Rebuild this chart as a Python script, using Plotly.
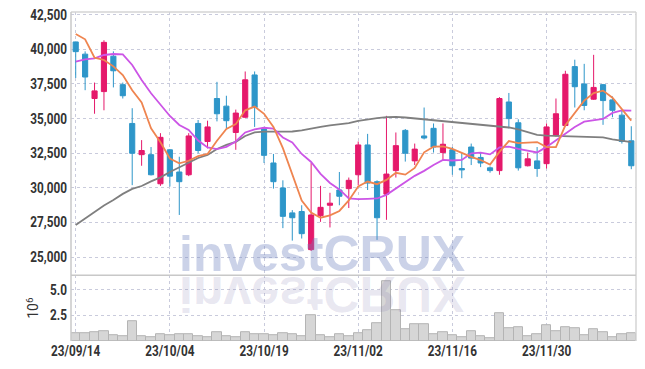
import plotly.graph_objects as go

# ---------------- data ----------------
dates = ["23/09/14", "23/09/15", "23/09/18", "23/09/19", "23/09/20", "23/09/21", "23/09/22",
         "23/09/25", "23/09/26", "23/09/27", "23/10/04", "23/10/05", "23/10/06", "23/10/10",
         "23/10/11", "23/10/12", "23/10/13", "23/10/16", "23/10/17", "23/10/18", "23/10/19",
         "23/10/20", "23/10/23", "23/10/24", "23/10/25", "23/10/26", "23/10/27", "23/10/30",
         "23/10/31", "23/11/01", "23/11/02", "23/11/03", "23/11/06", "23/11/07", "23/11/08",
         "23/11/09", "23/11/10", "23/11/13", "23/11/14", "23/11/15", "23/11/16", "23/11/17",
         "23/11/20", "23/11/21", "23/11/22", "23/11/23", "23/11/24", "23/11/27", "23/11/28",
         "23/11/29", "23/11/30", "23/12/01", "23/12/04", "23/12/05", "23/12/06", "23/12/07",
         "23/12/08", "23/12/11", "23/12/12", "23/12/13"]

open_ = [40530, 39650, 36450, 36950, 39500, 37450, 34650, 32400, 32400, 30300,
         32750, 31150, 30950, 34650, 33350, 36450, 35900, 34000, 35100, 38150,
         34300, 31800, 30000, 28200, 28300, 25550, 28000, 28750, 29850, 29950,
         30950, 33100, 30450, 29550, 31250, 34150, 31950, 33750, 34300, 32550,
         32750, 31400, 32950, 32200, 31450, 31250, 36200, 34700, 31600, 31950,
         31750, 33800, 34500, 38750, 37500, 36400, 37450, 36350, 35250, 33400]
high = [40550, 39850, 37600, 40650, 39850, 37600, 35750, 33450, 32950, 33950,
        32800, 32250, 33950, 34900, 34850, 37650, 36650, 35650, 38400, 38400,
        34400, 32450, 30550, 28400, 28750, 31800, 30150, 29650, 31150, 30750,
        33350, 33900, 30550, 35200, 34000, 34250, 33200, 35800, 34650, 34650,
        32950, 32500, 33200, 32550, 31550, 36550, 36850, 34950, 32550, 32950,
        34650, 36450, 38450, 39250, 38950, 39600, 37500, 36600, 35600, 34450]
low = [37930, 37050, 35350, 35600, 37250, 36450, 30200, 31600, 30900, 30150,
       30100, 28050, 30850, 32500, 32850, 34800, 34300, 32750, 35050, 34400,
       31800, 29950, 27100, 26200, 26350, 25450, 27550, 27150, 28750, 28550,
       30200, 29850, 26250, 27700, 30750, 31900, 31650, 33500, 32550, 32000,
       30950, 30700, 31650, 31500, 31100, 30950, 34300, 31250, 31550, 30800,
       31400, 33700, 34450, 35800, 35600, 36350, 34550, 35100, 33200, 31350]
close = [39830, 38000, 37000, 40500, 38450, 36650, 32500, 32700, 30950, 33650,
         30850, 30450, 33750, 32700, 34400, 35350, 34850, 35400, 37800, 35800,
         32350, 30450, 27950, 27850, 26700, 28050, 28600, 28900, 29400, 30550,
         33100, 30350, 27850, 31000, 33050, 32500, 32800, 33600, 32950, 33150,
         31600, 31300, 32150, 31800, 31250, 36450, 35000, 31450, 32100, 31400,
         34400, 35350, 38200, 37300, 35950, 37250, 36300, 35600, 33350, 31600]

ma5 = [41100, 40720, 39400, 39230, 38770, 38140, 37050, 36170, 34300, 33300,
       32120, 31780, 31960, 32290, 32450, 33400, 34250, 34600, 35600, 35870,
       35350, 34400, 32870, 30930, 29090, 28230, 27850, 28020, 28340, 29100,
       30110, 30460, 30270, 30580, 31090, 30960, 31440, 32570, 32980, 33000,
       32810, 32530, 32240, 32010, 31680, 32600, 33380, 33230, 33280, 33310,
       32950, 32950, 34520, 35400, 36300, 36840, 37020, 36510, 35710, 34850]
ma10 = [39110, 39280, 39350, 39590, 39660, 39640, 38870, 37790, 36830, 35980,
        35190, 34540, 34180, 33420, 32920, 32800, 32960, 33350, 34000, 34230,
        34340, 34280, 33640, 33280, 32450, 31870, 31010, 30360, 29890, 29240,
        29190, 29210, 29240, 29500, 29960, 30430, 30870, 31230, 31660, 32020,
        31980, 32020, 32500, 32540, 32420, 32920, 32980, 32810, 32670, 32560,
        32960, 33420, 33890, 34400, 34780, 34870, 34980, 35410, 35590, 35570]
ma60 = [27330, 27800, 28230, 28740, 29130, 29570, 29930, 30140, 30470, 30760,
        31150, 31480, 31840, 32160, 32380, 32810, 33100, 33320, 33750, 34000,
        34060, 34060, 34060, 34070, 34150, 34290, 34400, 34510, 34580, 34670,
        34830, 34940, 35030, 35100, 35120, 35080, 35010, 34960, 34890, 34840,
        34770, 34700, 34610, 34540, 34450, 34400, 34360, 34220, 34040, 33820,
        33770, 33750, 33750, 33750, 33730, 33710, 33640, 33510, 33390, 33300]

volume_millions = [0.75, 0.75, 0.85, 0.95, 0.59, 0.49, 1.91, 0.49, 0.36, 0.66,
                   0.56, 0.66, 0.66, 0.49, 0.36, 0.83, 0.44, 0.41, 0.85, 0.66,
                   0.66, 0.59, 0.75, 0.66, 0.51, 2.53, 0.54, 0.37, 0.66, 0.50,
                   0.75, 1.03, 1.74, 5.81, 3.01, 1.11, 1.65, 1.65, 0.67, 0.85,
                   0.57, 0.36, 0.95, 0.46, 0.26, 2.72, 1.25, 1.34, 0.49, 0.67,
                   1.55, 0.95, 1.34, 1.25, 0.57, 1.15, 0.85, 0.36, 0.66, 0.75]

price_ticks = [25000, 27500, 30000, 32500, 35000, 37500, 40000, 42500]
price_tick_text = ["25,000", "27,500", "30,000", "32,500", "35,000", "37,500", "40,000", "42,500"]
volume_ticks = [2.5, 5.0]
volume_tick_text = ["2.5", "5.0"]
date_ticks = ["23/09/14", "23/10/04", "23/10/19", "23/11/02", "23/11/16", "23/11/30"]
watermark = "investCRUX"

# ---------------- style ----------------
UP = "#e5196b"
DOWN = "#2e96c9"
GRID = "#c9cbdc"
FONT = "Roboto, Liberation Sans, sans-serif"
TICKFONT = dict(family=FONT, size=14, color="#333333", weight="bold")

fig = go.Figure()

fig.add_trace(go.Candlestick(
    x=dates, open=open_, high=high, low=low, close=close,
    increasing=dict(line=dict(color=UP, width=1), fillcolor=UP),
    decreasing=dict(line=dict(color=DOWN, width=1), fillcolor=DOWN),
    whiskerwidth=0, xaxis="x", yaxis="y", showlegend=False, hoverinfo="skip"))

fig.add_trace(go.Scatter(x=dates, y=ma60, mode="lines", line=dict(color="#7f7f7f", width=1.8),
                         xaxis="x", yaxis="y", showlegend=False, hoverinfo="skip"))
fig.add_trace(go.Scatter(x=dates, y=ma10, mode="lines", line=dict(color="#cc55e6", width=1.8),
                         xaxis="x", yaxis="y", showlegend=False, hoverinfo="skip"))
fig.add_trace(go.Scatter(x=dates, y=ma5, mode="lines", line=dict(color="#ef8550", width=1.8),
                         xaxis="x", yaxis="y", showlegend=False, hoverinfo="skip"))

fig.add_trace(go.Bar(x=dates, y=volume_millions, marker=dict(color="#d6d6d6", line=dict(color="#b4b4b4", width=1)),
                     xaxis="x2", yaxis="y2", showlegend=False, hoverinfo="skip"))

xcommon = dict(type="category", range=[-0.5, len(dates) - 0.5], tickmode="array",
               tickvals=date_ticks, showgrid=True, gridcolor=GRID, griddash="dot",
               gridwidth=1, zeroline=False, showline=False, ticks="", automargin=False)

fig.update_layout(
    width=645, height=369,
    margin=dict(l=71, r=9, t=12, b=28, autoexpand=False),
    paper_bgcolor="white", plot_bgcolor="white",
    boxgap=0.22, bargap=0,
    xaxis=dict(**xcommon, anchor="y", showticklabels=False, rangeslider=dict(visible=False)),
    xaxis2=dict(**xcommon, anchor="y2", matches="x", ticktext=date_ticks, showticklabels=True,
                tickfont=TICKFONT),
    yaxis=dict(domain=[0.2, 1], range=[23705, 42690], tickvals=price_ticks, ticktext=price_tick_text,
               showgrid=True, gridcolor=GRID, griddash="dot", zeroline=False, ticks="",
               tickfont=TICKFONT, showline=False, automargin=False, ticklabelstandoff=3),
    yaxis2=dict(domain=[0, 0.2], range=[0, 6.44], tickvals=volume_ticks, ticktext=volume_tick_text,
                showgrid=True, gridcolor=GRID, griddash="dot", zeroline=False, ticks="",
                tickfont=TICKFONT, showline=False, automargin=False, ticklabelstandoff=3,
                title=dict(text="10<sup>6</sup>", standoff=4,
                           font=dict(family=FONT, size=14, color="#333333"))),
    shapes=[
        dict(type="line", xref="paper", yref="paper", x0=0, x1=1, y0=1, y1=1,
             line=dict(color="#d4d4d4", width=1.5)),
        dict(type="line", xref="paper", yref="paper", x0=0, x1=0, y0=0, y1=1,
             line=dict(color="#c8c8c8", width=1.5)),
        dict(type="line", xref="paper", yref="paper", x0=1, x1=1, y0=0, y1=1,
             line=dict(color="#d4d4d4", width=1.5)),
        dict(type="line", xref="paper", yref="paper", x0=0, x1=1, y0=0.2, y1=0.2,
             line=dict(color="#c8c8c8", width=1.5)),
    ],
    annotations=[
        dict(text=watermark, xref="paper", yref="paper", x=0.444, y=0.263,
             xanchor="center", yanchor="middle", showarrow=False,
             font=dict(family="Liberation Sans, Arial, sans-serif", size=50, weight="bold",
                       color="rgba(110,130,190,0.36)")),
        dict(text=watermark, xref="paper", yref="paper", x=0.444, y=0.263,
             xanchor="center", yanchor="middle", showarrow=False,
             font=dict(family="Liberation Sans, Arial, sans-serif", size=50, weight="bold",
                       color="rgba(120,110,170,0.17)")),
    ],
)

post = """
document.body.style.margin = '0';
document.body.style.padding = '0';
var gd = document.getElementById('{plot_id}');
function tweak(){
  var g = gd.querySelector('.annotation[data-index="1"]');
  if (g) g.setAttribute('transform', 'translate(0,548.4) scale(1,-1)');
  var ticks = gd.querySelectorAll('g.xtick > text, g.x2tick > text, g.ytick > text, g.y2tick > text');
  ticks.forEach(function(t){
    if (t.getAttribute('data-condensed')) return;
    var L = t.getComputedTextLength();
    if (L > 0) {
      t.setAttribute('textLength', (L * 0.84).toFixed(2));
      t.setAttribute('lengthAdjust', 'spacingAndGlyphs');
      t.setAttribute('data-condensed', '1');
    }
  });
}
tweak();
gd.on('plotly_afterplot', tweak);
"""

fig.write_html("out.html", post_script=post, config={"displayModeBar": False})
